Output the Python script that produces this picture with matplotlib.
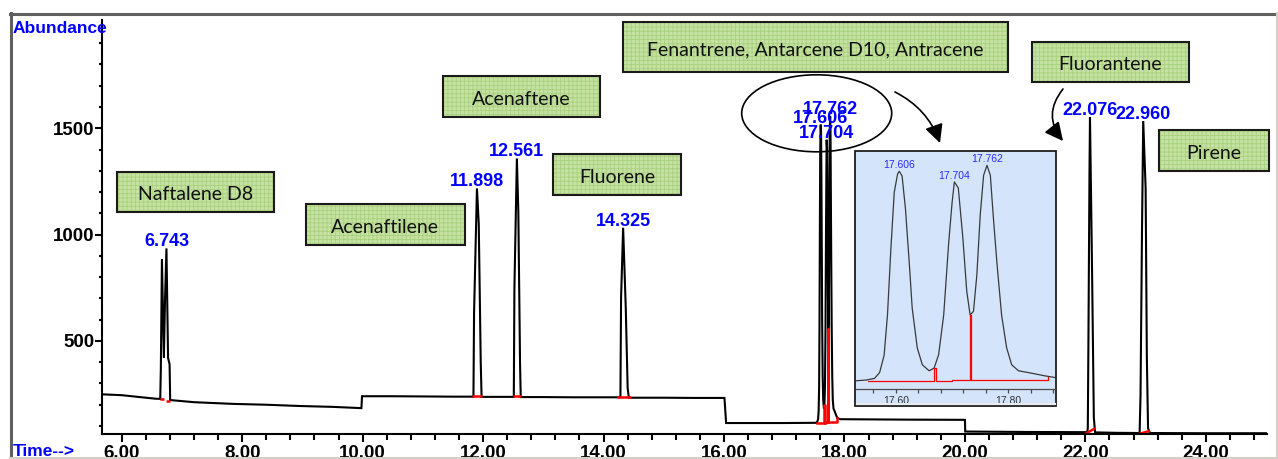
import matplotlib
matplotlib.use("Agg")
import matplotlib.pyplot as plt
import numpy as np
from matplotlib.patches import Rectangle, Ellipse, FancyArrowPatch
from matplotlib.lines import Line2D
from matplotlib.ticker import FixedLocator, MultipleLocator, FormatStrFormatter, NullFormatter
from matplotlib.transforms import Bbox, TransformedBbox

W, H = 1278, 459

# ---- chromatogram (retention time in min, abundance) ----
trace_time_a = [5.668, 6.0, 6.3, 6.575, 6.640, 6.650, 6.668, 6.700, 6.719, 6.743, 6.770, 6.795, 6.805,
                7.2, 7.85, 8.4, 8.96, 9.5, 9.98, 9.99, 10.5, 11.0, 11.5,
                11.84, 11.850, 11.898, 11.928, 11.961, 11.975, 12.2,
                12.51, 12.52, 12.561, 12.585, 12.614, 12.625, 13.0, 13.5, 14.0,
                14.28, 14.291, 14.325, 14.369, 14.40, 14.42, 15.0, 15.5, 16.007, 16.035, 16.5, 17.0]
trace_abund_a = [249, 245, 236, 228, 228, 370, 885, 420, 690, 935, 420, 390, 222,
                 212, 204, 200, 194, 190, 184, 240, 240, 239, 238,
                 238, 630, 1217, 1050, 400, 237, 237,
                 237, 747, 1358, 1107, 387, 236, 236, 235, 235,
                 235, 703, 1032, 653, 279, 233, 233, 232, 232, 114, 114, 114]

# phenanthrene / anthracene cluster, abundance above local baseline
cluster_base = 115
cluster_time = [17.529, 17.547, 17.562, 17.571, 17.579, 17.585, 17.591, 17.597, 17.603, 17.606,
                17.611, 17.617, 17.624, 17.629, 17.638, 17.647, 17.659, 17.668, 17.676, 17.685,
                17.694, 17.700, 17.704, 17.711, 17.719, 17.726, 17.732, 17.738, 17.744, 17.750,
                17.756, 17.762, 17.768, 17.773, 17.780, 17.788, 17.797, 17.806, 17.818, 17.841,
                17.865, 17.883]
cluster_rel = [0, 5, 16, 55, 170, 440, 880, 1260, 1385, 1402,
               1370, 1150, 775, 485, 220, 107, 67, 85, 175, 440,
               930, 1195, 1331, 1290, 960, 600, 440, 465, 710, 1110,
               1375, 1442, 1375, 1110, 775, 440, 220, 107, 67, 51,
               33, 22]

trace_time_b = [17.93, 19.0, 20.0, 20.005, 21.0, 22.03, 22.04, 22.05, 22.068, 22.076, 22.11, 22.14, 22.16,
                22.5, 22.90, 22.915, 22.94, 22.960, 23.0, 23.02, 23.04, 23.07, 24.0, 25.01]
trace_abund_b = [132, 130, 129, 74, 72, 71, 90, 490, 1303, 1553, 841, 140, 70,
                 68, 67, 242, 1028, 1534, 1217, 426, 90, 67, 66, 66]

# labelled peaks
peak_rt = [6.743, 11.898, 12.561, 14.325, 17.762, 17.606, 17.704, 22.076, 22.960]
peak_top = [935, 1217, 1358, 1032, 1557, 1517, 1446, 1553, 1534]

# integration baselines (red)
integ_t0 = [6.640, 6.730, 11.81, 12.49, 14.22, 21.99, 22.88]
integ_t1 = [6.695, 6.810, 11.98, 12.63, 14.45, 22.16, 23.07]
integ_y0 = [226, 216, 240, 240, 236, 62, 62]
integ_y1 = [226, 216, 240, 240, 236, 89, 77]
cluster_red_time = [17.550, 17.668, 17.668, 17.671, 17.671, 17.700, 17.700, 17.731, 17.731,
                    17.734, 17.734, 17.870, 17.870]
cluster_red_rel = [0, 0, 85, 85, 0, 0, 2, 2, 440, 440, 2, 2, 22]

inset_peaks = [17.606, 17.704, 17.762]
inset_peak_rel = [1402, 1331, 1442]

compounds = ["Naftalene D8", "Acenaftilene", "Acenaftene", "Fluorene",
             "Fenantrene, Antarcene D10, Antracene", "Fluorantene", "Pirene"]
# box extents in pixels (x0, y0, x1, y1), top-left origin
boxes = [(116.7, 171.7, 274.3, 212.3), (305.7, 203.7, 465, 245), (443.3, 76, 600, 116.7),
         (553.3, 153.7, 681, 194.7), (623.3, 21.7, 1008, 72.3), (1031.7, 41.7, 1189, 82.3),
         (1159, 130, 1269, 171)]


def fx(x):
    return x / W


def fy(y):
    return 1 - y / H


plt.rcParams["hatch.linewidth"] = 0.6
fig = plt.figure(figsize=(W / 100, H / 100), dpi=100)
fig.patch.set_facecolor("white")

mono = "Liberation Sans"
ax = fig.add_axes([fx(101.7), fy(434.3), (1266.7 - 101.7) / W, (434.3 - 20) / H])
ax.set_facecolor("none")

t_all = np.array(trace_time_a + list(cluster_time) + trace_time_b)
y_all = np.array(trace_abund_a + [cluster_base + r for r in cluster_rel] + trace_abund_b)
ax.plot(t_all, y_all, color="black", lw=1.5, solid_joinstyle="miter")

for t0, t1, y0, y1 in zip(integ_t0, integ_t1, integ_y0, integ_y1):
    ax.plot([t0, t1], [y0, y1], color="red", lw=1.8, solid_capstyle="butt")
ax.plot(cluster_red_time, [cluster_base + r for r in cluster_red_rel], color="red", lw=1.8)

for t, h in zip(peak_rt, peak_top):
    ax.annotate(f"{t:.3f}", (t, h), xytext=(0, 2), textcoords="offset pixels",
                ha="center", va="baseline", color="#0000ff", fontsize=13,
                family=mono, fontweight="bold")

ax.set_xlim(5.668, 25.01)
ax.set_ylim(61, 2009)
for s in ["top", "right"]:
    ax.spines[s].set_visible(False)
for s in ["left", "bottom"]:
    ax.spines[s].set_linewidth(1.5)
ax.xaxis.set_major_locator(MultipleLocator(2))
ax.xaxis.set_minor_locator(MultipleLocator(0.4))
ax.xaxis.set_major_formatter(FormatStrFormatter("%.2f"))
ax.yaxis.set_major_locator(FixedLocator([500, 1000, 1500]))
ax.yaxis.set_minor_locator(FixedLocator(list(range(100, 2000, 100))))
ax.tick_params(axis="x", which="major", length=6, width=1.5, pad=1.5, labelsize=13.5)
ax.tick_params(axis="x", which="minor", length=4.5, width=1.5)
ax.tick_params(axis="y", which="major", length=4.8, width=1.5, pad=0.6, labelsize=13.5)
ax.tick_params(axis="y", which="minor", length=2, width=1.5)
for lab in ax.get_xticklabels() + ax.get_yticklabels():
    lab.set_family(mono)
    lab.set_fontweight("bold")

fig.text(fx(13), fy(33), "Abundance", color="#0000ff", fontsize=12.5, family=mono,
         fontweight="bold", va="baseline", ha="left")
fig.text(fx(13), fy(444), "Time-->", color="#0000ff", fontsize=12.5, family=mono,
         fontweight="bold", va="top", ha="left")

# ---- inset (zoom on the 17.6-17.8 min cluster) ----
fig.add_artist(Rectangle((fx(855), fy(406.3)), 201 / W, (406.3 - 151.3) / H, transform=fig.transFigure,
                         fc="#d3e4fb", ec="#1e1e1e", lw=1.3, zorder=1))
fig.add_artist(Line2D([fx(856.5), fx(1054.5)], [fy(404), fy(404)], transform=fig.transFigure,
                      color="#e9ecef", lw=1.5, zorder=1.5))
ax_in = fig.add_axes([fx(856), fy(388.7), (1055 - 856) / W, (388.7 - 152) / H])
ax_in.set_zorder(2)
ax_in.set_facecolor("none")
ax_in.plot(cluster_time, cluster_rel, color="#3a3a3a", lw=0.9)
ax_in.plot(cluster_red_time, cluster_red_rel, color="red", lw=0.9)
for t, h in zip(inset_peaks, inset_peak_rel):
    ax_in.annotate(f"{t:.3f}", (t, h), xytext=(0, 3), textcoords="offset pixels",
                   ha="center", va="baseline", color="#2a2aff", fontsize=7.5, family=mono)
ax_in.set_xlim(17.529, 17.883)
ax_in.set_ylim(-53, 1531)
for s in ["top", "right", "left"]:
    ax_in.spines[s].set_visible(False)
ax_in.spines["bottom"].set_color("#4a4a4a")
ax_in.spines["bottom"].set_linewidth(0.9)
ax_in.set_yticks([])
ax_in.xaxis.set_major_locator(FixedLocator([17.60, 17.80]))
ax_in.xaxis.set_minor_locator(FixedLocator([17.56, 17.64, 17.68, 17.72, 17.76, 17.84, 17.88]))
ax_in.xaxis.set_major_formatter(NullFormatter())
ax_in.tick_params(axis="x", which="both", length=3, width=0.9, color="#4a4a4a")
clip = TransformedBbox(Bbox.from_extents(fx(856), fy(403), fx(1055), fy(389)), fig.transFigure)
for t in [17.60, 17.80]:
    txt = ax_in.text(t, -0.03, f"{t:.2f}", transform=ax_in.get_xaxis_transform(), ha="center",
                     va="top", fontsize=7.5, color="#333333", family=mono)
    txt.set_clip_on(True)
    txt.set_clip_box(clip)

# ---- annotation boxes ----
for name, (x0, y0, x1, y1) in zip(compounds, boxes):
    fig.add_artist(Rectangle((fx(x0), fy(y1)), (x1 - x0) / W, (y1 - y0) / H, transform=fig.transFigure,
                             fc="#c6e2a2", ec="#a8d07e", hatch="++++", lw=0, zorder=3))
    fig.add_artist(Rectangle((fx(x0), fy(y1)), (x1 - x0) / W, (y1 - y0) / H, transform=fig.transFigure,
                             fill=False, ec="#1a1a1a", lw=1.5, zorder=3.1))
    fig.text(fx((x0 + x1) / 2), fy((y0 + y1) / 2 + 8.5), name, ha="center", va="baseline",
             fontsize=14, family="Lato", color="#111111", zorder=4)

fig.add_artist(Ellipse((fx(816.7), fy(113.3)), 150 / W, 77 / H, transform=fig.transFigure,
                       fill=False, ec="black", lw=1.2, zorder=3))
fig.add_artist(FancyArrowPatch((fx(895), fy(92)), (fx(940), fy(143)), transform=fig.transFigure,
                               connectionstyle="arc3,rad=-0.2", arrowstyle="-|>,head_length=0.8,head_width=0.4",
                               mutation_scale=14, lw=1.2, color="black", shrinkA=0, shrinkB=0, zorder=3))
fig.add_artist(FancyArrowPatch((fx(1063), fy(89)), (fx(1063), fy(141)), transform=fig.transFigure,
                               connectionstyle="arc3,rad=0.4", arrowstyle="-|>,head_length=0.8,head_width=0.4",
                               mutation_scale=14, lw=1.2, color="black", shrinkA=0, shrinkB=0, zorder=3))

# ---- window frame ----
fig.add_artist(Line2D([fx(10), fx(1278)], [fy(13.5), fy(13.5)], transform=fig.transFigure,
                      color="#5f5f5f", lw=2.2, zorder=5))
fig.add_artist(Line2D([fx(11.3), fx(11.3)], [fy(12.5), fy(457)], transform=fig.transFigure,
                      color="#5f5f5f", lw=2.2, zorder=5))
fig.add_artist(Line2D([fx(10), fx(1278)], [fy(457.5), fy(457.5)], transform=fig.transFigure,
                      color="#d4d0c8", lw=1.5, zorder=5))
fig.add_artist(Line2D([fx(1276.7), fx(1276.7)], [fy(13), fy(458)], transform=fig.transFigure,
                      color="#d4d0c8", lw=1.5, zorder=5))

fig.savefig("out.png", dpi=100, facecolor="white")
